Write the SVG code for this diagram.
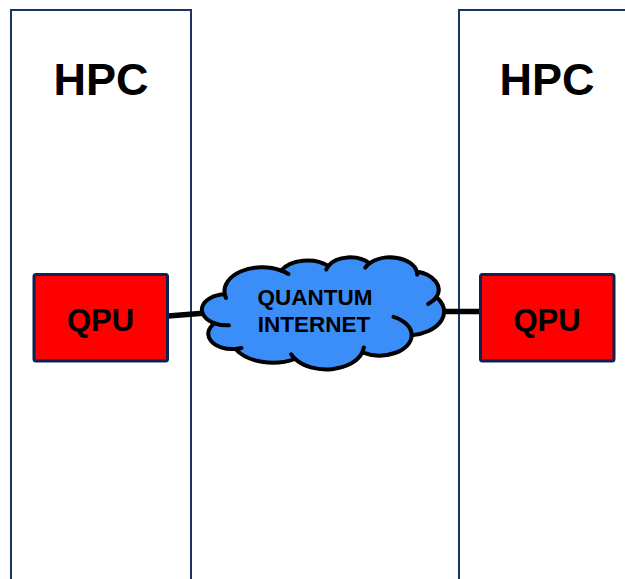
<svg xmlns="http://www.w3.org/2000/svg" width="625" height="579" viewBox="0 0 625 579">
<style>
.hpc{fill:#ffffff;stroke:#1c3461;stroke-width:2}
.qpu{fill:#ff0000;stroke:#0e2250;stroke-width:3}
.t{font-family:"Liberation Sans",Arial,sans-serif;font-weight:bold;fill:#000;text-anchor:middle}
.cloud{fill:#3b8ef7;stroke:#000;stroke-width:4;stroke-linejoin:round}
.hook{fill:none;stroke:#000;stroke-width:4;stroke-linecap:round}
.link{stroke:#000;stroke-width:5.5;fill:none}
</style>
<rect width="625" height="579" fill="#ffffff"/>
<g id="hpc-left">
<rect class="hpc" x="11" y="10" width="180" height="590"/>
<text class="t" x="101" y="95" font-size="45">HPC</text>
</g>
<g id="hpc-right">
<rect class="hpc" x="459" y="10" width="180" height="590"/>
<text class="t" x="547" y="95" font-size="45">HPC</text>
</g>
<g id="connectors">
<line class="link" x1="168" y1="316" x2="206" y2="313"/>
<line class="link" x1="441" y1="311.5" x2="480" y2="311.5"/>
</g>
<g id="qpu-left">
<rect class="qpu" x="34" y="274.5" width="133.5" height="86.5" rx="2"/>
<text class="t" x="100.5" y="331" font-size="31">QPU</text>
</g>
<g id="qpu-right">
<rect class="qpu" x="480.5" y="274.5" width="133.5" height="86.5" rx="2"/>
<text class="t" x="547" y="331" font-size="31">QPU</text>
</g>
<g id="quantum-internet">
<path class="cloud" d="M224.8,294.3 A37.68,23.83 0 0 1 281.1,270.5 A29.75,18.84 0 0 1 328.3,265.9 A24.35,15.41 0 0 1 369.4,263.4 A27.1,17.1 0 0 1 416.8,271.5 A29.75,18.86 0 0 1 436.3,297.1 A37.8,23.9 0 0 1 411.7,335.3 A32.27,20.4 0 0 1 362.3,352.4 A37.67,23.89 0 0 1 294.9,358.8 A43.07,27.33 0 0 1 235.4,349 A24.32,15.34 0 0 1 214.8,323.3 A24.24,15.41 0 0 1 224.8,294.3 Z"/>
<path class="hook" d="M228.9,325.3 A24.24,15.41 0 0 1 214.8,323.3 M241.5,348 A24.32,15.34 0 0 1 235.4,349 M294.9,358.8 A37.67,23.89 0 0 1 291.2,354.3 M363.8,347.5 A37.67,23.89 0 0 1 362.3,352.4 M393.5,316.8 A32.27,20.4 0 0 1 411.7,335.3 M436.3,297.1 A29.75,18.86 0 0 1 428.2,304 M416.8,271.5 A27.1,17.1 0 0 1 417.2,274.7 M365.3,267.6 A27.1,17.1 0 0 1 369.4,263.4 M326.3,269.5 A24.35,15.41 0 0 1 328.3,265.9 M281.1,270.5 A37.68,23.83 0 0 1 288.4,274 M226,297.9 A37.68,23.83 0 0 1 224.8,294.3"/>
<text class="t" x="315" y="305" font-size="22.5">QUANTUM</text>
<text class="t" x="314" y="332" font-size="22.5">INTERNET</text>
</g>
</svg>
